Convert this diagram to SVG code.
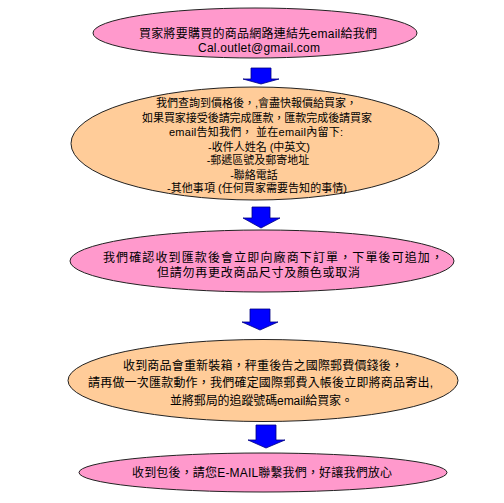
<svg xmlns="http://www.w3.org/2000/svg" width="504" height="503" viewBox="0 0 504 503">
<style>
.pink{fill:#FF99CC;stroke:#222;stroke-width:1}
.orange{fill:#FFCC99;stroke:#222;stroke-width:1}
.arrow{fill:#0000FF;stroke:#000080;stroke-width:0.8}
text{font-family:"Liberation Sans","Noto Sans CJK TC",sans-serif;font-size:12px;fill:#000}
.s{font-size:11px}
.c{text-anchor:middle}
</style>
<rect width="504" height="503" fill="#fff"/>
<g id="connectors">
<path class="arrow" d="M251,68 H271 V79 H279 L261,84 L243,79 H251 Z"/>
<path class="arrow" d="M252,207 H270 V218 H280 L261,228 L243,218 H252 Z"/>
<path class="arrow" d="M250,309 H270 V322 H278 L260,330 L242,322 H250 Z"/>
<path class="arrow" d="M256,425 H276 V440 H285 L266,448 L248,440 H256 Z"/>
</g>
<g id="node1">
<ellipse class="pink" cx="255" cy="33" rx="162" ry="25"/>
<text x="139" y="37.5" textLength="238" lengthAdjust="spacing">買家將要購買的商品網路連結先email給我們</text>
<text x="198" y="51.5" textLength="122" lengthAdjust="spacing">Cal.outlet@gmail.com</text>
</g>
<g id="node2">
<ellipse class="orange" cx="255" cy="143.5" rx="184" ry="56.5"/>
<text class="s" x="156" y="107" textLength="201" lengthAdjust="spacing">我們查詢到價格後，,會盡快報價給買家，</text>
<text class="s" x="142" y="122" textLength="230" lengthAdjust="spacing">如果買家接受後請完成匯款，匯款完成後請買家</text>
<text class="s" x="169" y="136" textLength="174" lengthAdjust="spacing">email告知我們， 並在email內留下:</text>
<text class="s c" x="259" y="151">-收件人姓名 (中英文)</text>
<text class="s c" x="258" y="164">-郵遞區號及郵寄地址</text>
<text class="s c" x="254" y="179">-聯絡電話</text>
<text class="s" x="167" y="192" textLength="180" lengthAdjust="spacing">-其他事項 (任何買家需要告知的事情)</text>
</g>
<g id="node3">
<ellipse class="pink" cx="262" cy="261" rx="192" ry="31"/>
<text x="103" y="261.5" textLength="340" lengthAdjust="spacing">我們確認收到匯款後會立即向廠商下訂單，下單後可追加，</text>
<text x="157" y="276.5" textLength="203" lengthAdjust="spacing">但請勿再更改商品尺寸及顏色或取消</text>
</g>
<g id="node4">
<ellipse class="orange" cx="263" cy="380.5" rx="195" ry="41"/>
<text x="123" y="369.5" textLength="280" lengthAdjust="spacing">收到商品會重新裝箱，秤重後告之國際郵費價錢後，</text>
<text x="88" y="386.5" textLength="345" lengthAdjust="spacing">請再做一次匯款動作，我們確定國際郵費入帳後立即將商品寄出,</text>
<text x="170" y="404.5" textLength="183" lengthAdjust="spacing">並將郵局的追蹤號碼email給買家。</text>
</g>
<g id="node5">
<ellipse class="pink" cx="263" cy="472.5" rx="184" ry="19.5"/>
<text x="132" y="476.5" textLength="260" lengthAdjust="spacing">收到包後，請您E-MAIL聯繫我們，好讓我們放心</text>
</g>
</svg>
